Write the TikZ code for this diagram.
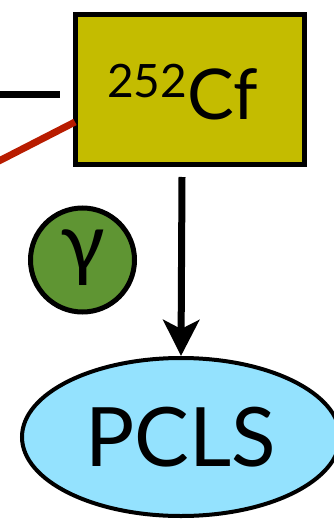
\documentclass[tikz,border=0pt]{standalone}
\usepackage{fontspec}
\setmainfont{Lato}
\usetikzlibrary{shapes.geometric,arrows.meta}
\definecolor{cfyellow}{HTML}{C4BC00}
\definecolor{gred}{HTML}{B81C00}
\definecolor{ggreen}{HTML}{5F9533}
\definecolor{pblue}{HTML}{94E2FE}
\tikzset{
  boxnode/.style={draw=black,line width=5pt,fill=cfyellow,minimum width=229pt,minimum height=150pt,inner sep=0pt},
  gammanode/.style={circle,draw=black,line width=5pt,fill=ggreen,minimum size=104pt,inner sep=0pt},
  pclsnode/.style={ellipse,draw=black,line width=4pt,fill=pblue,minimum width=318pt,minimum height=158pt,inner sep=0pt},
  flow/.style={line width=7pt,-{Stealth[length=36pt,width=36pt,inset=9pt]}}
}
\begin{document}
\begin{tikzpicture}[x=1pt,y=-1pt]
\clip (0,0) rectangle (334,524);
\fill[white] (0,0) rectangle (334,524);
\node[boxnode] (cf) at (190,89.5) {};
\node[anchor=base west,inner sep=0pt] (cftext) at (107,120) {\raisebox{22pt}{\fontsize{46}{46}\selectfont 252}\fontsize{70}{70}\selectfont Cf};
\coordinate (bl) at (0,95);
\coordinate (br) at (60,95);
\draw[line width=7pt] (bl) -- (br);
\coordinate (rl) at (-5,163);
\coordinate (rr) at (75,122);
\draw[gred,line width=7pt] (rl) -- (rr);
\node[gammanode] (gamma) at (82.5,260) {};
\node[anchor=center,inner sep=0pt] (gtext) at (82.5,258) {\fontsize{82}{82}\selectfont γ};
\node[pclsnode] (pcls) at (181,437) {\fontsize{82}{82}\selectfont PCLS};
\coordinate (as) at (182,177);
\draw[flow] (as) -- (pcls.north);
\end{tikzpicture}
\end{document}
